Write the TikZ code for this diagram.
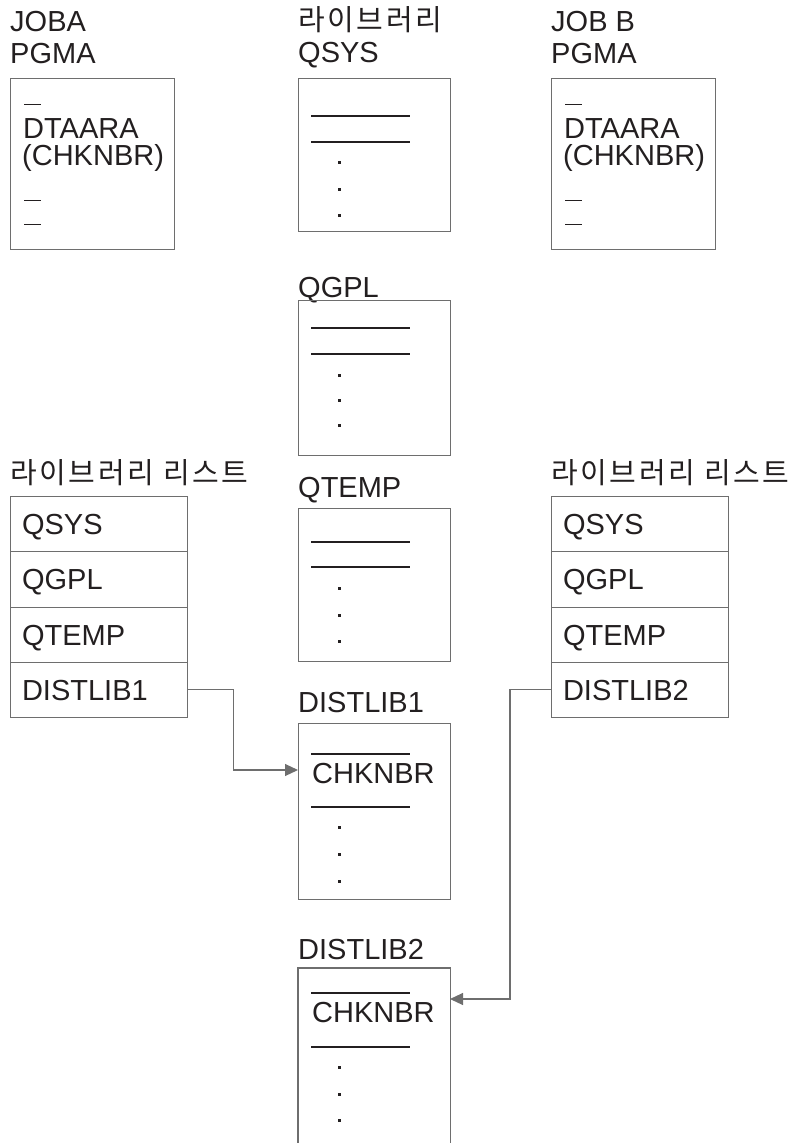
\documentclass[tikz,border=0pt]{standalone}
\usepackage{fontspec}
\setmainfont{Liberation Sans}
\newfontfamily\krfont[LetterSpace=9]{Noto Sans CJK KR}
\usetikzlibrary{arrows.meta}
\definecolor{ink}{HTML}{231F20}
\definecolor{frame}{HTML}{6E6E6E}
\begin{document}
\begin{tikzpicture}[x=1pt,y=-1pt,
  lbl/.style={anchor=base west, inner sep=0pt, font=\fontsize{29}{32}\selectfont, text=ink},
  krlbl/.style={anchor=base west, inner sep=0pt, font=\krfont\fontsize{29}{32}\selectfont, text=ink},
  frm/.style={draw=frame, line width=1.1pt, anchor=north west, inner sep=0pt},
  rowcell/.style={draw=frame, line width=1.1pt, minimum width=177pt, minimum height=55.25pt,
     text width=153pt, inner xsep=12pt, inner ysep=0pt, align=left, text height=21pt,
     text depth=0pt, anchor=north west, font=\fontsize{29}{32}\selectfont, text=ink},
  rulel/.style={line width=1.7pt, ink},
  tick/.style={line width=0.9pt, ink},
  conn/.style={draw=frame, line width=1.1pt, -{Triangle[length=13pt,width=12pt]}},
  dotm/.style={fill=ink}
]
\useasboundingbox (0,0) rectangle (791,1143);

% ---- JOBA ----
\node[lbl] (jobaA) at (10,31) {JOBA};
\node[lbl] (jobaB) at (10,63) {PGMA};
\node[frm, minimum width=164pt, minimum height=171pt] (jobabox) at (10,78) {};
\draw[tick] (24,104) -- (41,104);
\node[lbl] (jobad) at (23,138) {DTAARA};
\node[lbl] (jobac) at (22,165) {(CHKNBR)};
\draw[tick] (24,200) -- (41,200);
\draw[tick] (24,224) -- (41,224);

% ---- JOB B ----
\node[lbl] (jobbA) at (551,31) {JOB B};
\node[lbl] (jobbB) at (551,63) {PGMA};
\node[frm, minimum width=164pt, minimum height=171pt] (jobbbox) at (551,78) {};
\draw[tick] (565,104) -- (582,104);
\node[lbl] (jobbd) at (564,138) {DTAARA};
\node[lbl] (jobbc) at (563,165) {(CHKNBR)};
\draw[tick] (565,200) -- (582,200);
\draw[tick] (565,224) -- (582,224);

% ---- QSYS ----
\node[krlbl] (libhdr) at (298,30) {라이브러리};
\node[lbl] (qsysl) at (298,62) {QSYS};
\node[frm, minimum width=152pt, minimum height=153pt] (qsysbox) at (298,78) {};
\draw[rulel] (311,116) -- (410,116);
\draw[rulel] (311,142) -- (410,142);
\foreach \yy in {162,189,215} \fill[dotm] (337.5,\yy-1.5) rectangle ++(3,3);

% ---- QGPL ----
\node[lbl] (qgpll) at (298,297) {QGPL};
\node[frm, minimum width=152pt, minimum height=155pt] (qgplbox) at (298,300) {};
\draw[rulel] (311,328) -- (410,328);
\draw[rulel] (311,354) -- (410,354);
\foreach \yy in {375,400,425} \fill[dotm] (337.5,\yy-1.5) rectangle ++(3,3);

% ---- QTEMP ----
\node[lbl] (qtempl) at (298,497) {QTEMP};
\node[frm, minimum width=152pt, minimum height=153pt] (qtempbox) at (298,508) {};
\draw[rulel] (311,542) -- (410,542);
\draw[rulel] (311,567) -- (410,567);
\foreach \yy in {588,615,641} \fill[dotm] (337.5,\yy-1.5) rectangle ++(3,3);

% ---- DISTLIB1 ----
\node[lbl] (d1l) at (298,712) {DISTLIB1};
\node[frm, minimum width=152pt, minimum height=176pt] (d1box) at (298,723) {};
\draw[rulel] (311,754) -- (410,754);
\node[lbl] (d1chk) at (312,783) {CHKNBR};
\draw[rulel] (311,807) -- (410,807);
\foreach \yy in {827,854,881} \fill[dotm] (337.5,\yy-1.5) rectangle ++(3,3);
\coordinate (d1in) at (298,770);

% ---- DISTLIB2 ----
\node[lbl] (d2l) at (298,959) {DISTLIB2};
\node[anchor=north west, inner sep=0pt, minimum width=152pt, minimum height=175pt] (d2box) at (298,968) {};
\draw[draw=frame, line width=1.1pt] (d2box.south west) -- (d2box.north west) -- (d2box.north east) -- (d2box.south east);
\draw[rulel] (311,993) -- (410,993);
\node[lbl] (d2chk) at (312,1022) {CHKNBR};
\draw[rulel] (311,1047) -- (410,1047);
\foreach \yy in {1067,1094,1120} \fill[dotm] (337.5,\yy-1.5) rectangle ++(3,3);
\coordinate (d2in) at (450,999);

% ---- library list left ----
\node[krlbl] (llhdr1) at (10,483) {라이브러리 리스트};
\node[rowcell] (l1a) at (9.5,496) {QSYS};
\node[rowcell] (l1b) at (9.5,551.25) {QGPL};
\node[rowcell] (l1c) at (9.5,606.5) {QTEMP};
\node[rowcell] (l1d) at (9.5,661.75) {DISTLIB1};

% ---- library list right ----
\node[krlbl] (llhdr2) at (551,483) {라이브러리 리스트};
\node[rowcell] (l2a) at (550.5,496) {QSYS};
\node[rowcell] (l2b) at (550.5,551.25) {QGPL};
\node[rowcell] (l2c) at (550.5,606.5) {QTEMP};
\node[rowcell] (l2d) at (550.5,661.75) {DISTLIB2};

% ---- connectors ----
\draw[conn] (l1d.east) -- ++(45.5,0) |- (d1in);
\draw[conn] (l2d.west) -- ++(-40.5,0) |- (d2in);
\end{tikzpicture}
\end{document}
